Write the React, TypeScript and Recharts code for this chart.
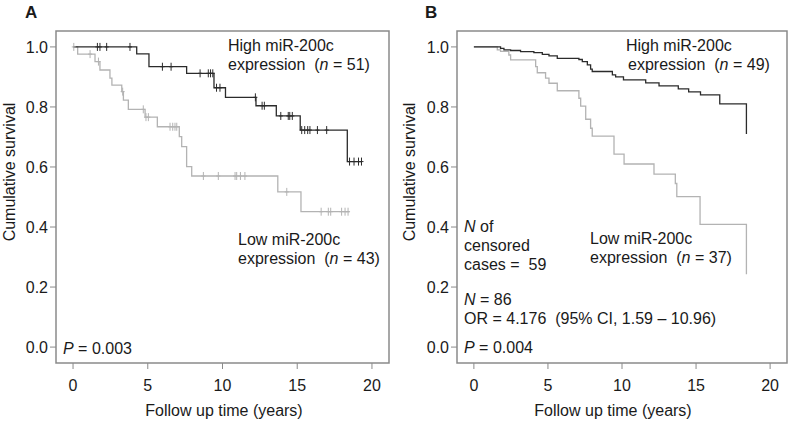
import React from 'react';
import { ComposedChart, Line, Scatter, XAxis, YAxis, ReferenceArea } from 'recharts';

// ---------- Panel A data ----------
const hiA_t = [0, 4.26, 5.08, 7.6, 9.43, 10.2, 12.24, 13.6, 15.2, 18.35, 19.3];
const hiA_s = [1.0, 0.977, 0.934, 0.912, 0.864, 0.832, 0.804, 0.77, 0.723, 0.618, 0.618];
const hiA_cens = [1.63, 1.8, 2.25, 3.81, 5.98, 6.56, 8.5, 9.05, 9.2, 9.35, 9.6, 9.83, 12.2, 12.65, 12.8, 13.9, 14.4, 14.5, 14.67, 15.3, 15.5, 15.7, 15.85, 16.35, 16.97, 18.5, 18.8, 19.1, 19.3];

const loA_t = [0, 0.31, 1.47, 1.8, 2.47, 2.6, 3.26, 3.37, 3.7, 4.82, 5.64, 7.11, 7.27, 7.6, 7.94, 13.7, 15.25, 18.5];
const loA_s = [1.0, 0.976, 0.951, 0.923, 0.896, 0.873, 0.851, 0.823, 0.792, 0.766, 0.734, 0.701, 0.668, 0.601, 0.57, 0.517, 0.451, 0.451];
const loA_cens = [0.05, 1.14, 1.7, 3.32, 4.7, 4.88, 5.04, 6.49, 6.67, 6.82, 6.94, 8.72, 9.72, 10.84, 10.95, 11.2, 11.5, 14.3, 16.6, 17.08, 17.24, 17.97, 18.2, 18.4];

// ---------- Panel B data ----------
const hiB_t = [0, 1.8, 2.03, 2.48, 3.15, 4.05, 4.62, 5.07, 5.63, 7.09, 7.32, 7.66, 7.88, 7.99, 9.35, 9.57, 10.1, 11.6, 12.5, 13.8, 14.5, 15.3, 16.6, 18.4];
const hiB_s = [1.0, 0.995, 0.99, 0.988, 0.984, 0.981, 0.975, 0.97, 0.962, 0.958, 0.951, 0.94, 0.926, 0.918, 0.907, 0.9, 0.89, 0.88, 0.87, 0.86, 0.85, 0.84, 0.81, 0.71];

const loB_t = [0, 1.58, 1.8, 2.36, 2.48, 4.17, 4.28, 4.84, 5.07, 5.63, 7.09, 7.21, 7.55, 7.88, 7.99, 9.46, 10.14, 12.16, 13.6, 13.7, 15.27, 18.4];
const loB_s = [1.0, 0.99, 0.985, 0.973, 0.957, 0.934, 0.914, 0.896, 0.879, 0.854, 0.829, 0.803, 0.759, 0.729, 0.703, 0.643, 0.61, 0.576, 0.545, 0.501, 0.409, 0.243];

const xTicks = [0, 5, 10, 15, 20];
const yTicks = [0, 0.2, 0.4, 0.6, 0.8, 1.0];
const X_DOMAIN: [number, number] = [-1.14, 21.14];
const Y_DOMAIN: [number, number] = [-0.053, 1.053];

const FONT = '"Liberation Sans", Arial, Helvetica, sans-serif';
const DARK = '#2b2b2b';
const LIGHT = '#b3b3b3';
const FRAME = '#8a8a8a';

function toPoints(ts: number[], ss: number[]) {
  return ts.map((t, i) => ({ t, s: ss[i] }));
}
function levelAt(ts: number[], ss: number[], t: number) {
  let v = ss[0];
  for (let i = 0; i < ts.length; i++) if (ts[i] <= t) v = ss[i];
  return v;
}
function censPoints(ts: number[], ss: number[], cens: number[]) {
  return cens.map((t) => ({ t, s: levelAt(ts, ss, t) }));
}

const makeCensor = (color: string) => (props: any) => {
  const { cx, cy } = props;
  if (cx == null || cy == null) return <g />;
  return (
    <g>
      <line x1={cx} x2={cx} y1={cy - 4} y2={cy + 4} stroke={color} strokeWidth={1} />
      <line x1={cx - 2} x2={cx + 2} y1={cy} y2={cy} stroke={color} strokeWidth={1} />
    </g>
  );
};

const tickStyle = { fontSize: 16, fill: '#1a1a1a', fontFamily: FONT };

function Panel(props: {
  width: number;
  left: number;
  right: number;
  hi: { t: number; s: number }[];
  lo: { t: number; s: number }[];
  hiC?: { t: number; s: number }[];
  loC?: { t: number; s: number }[];
}) {
  const { width, left, right, hi, lo, hiC, loC } = props;
  return (
    <ComposedChart
      width={width}
      height={424}
      margin={{ top: 31, right, bottom: 11, left: 0 }}
    >
      <XAxis
        type="number"
        dataKey="t"
        domain={X_DOMAIN}
        ticks={xTicks}
        allowDataOverflow
        axisLine={false}
        stroke={FRAME}
        tickSize={6}
        tickMargin={11}
        height={50}
        tick={tickStyle}
        interval={0}
      />
      <YAxis
        type="number"
        dataKey="s"
        domain={Y_DOMAIN}
        ticks={yTicks}
        allowDataOverflow
        axisLine={false}
        stroke={FRAME}
        tickSize={6}
        tickMargin={2}
        width={left}
        tick={tickStyle}
        interval={0}
        tickFormatter={(v: number) => v.toFixed(1)}
      />
      <ReferenceArea
        x1={X_DOMAIN[0]}
        x2={X_DOMAIN[1]}
        y1={Y_DOMAIN[0]}
        y2={Y_DOMAIN[1]}
        fill="none"
        fillOpacity={0}
        stroke={FRAME}
        strokeWidth={1.5}
        ifOverflow="visible"
      />
      <Line data={lo} dataKey="s" type="stepAfter" stroke={LIGHT} strokeWidth={1.3} dot={false} isAnimationActive={false} />
      <Line data={hi} dataKey="s" type="stepAfter" stroke={DARK} strokeWidth={1.3} dot={false} isAnimationActive={false} />
      {loC && <Scatter data={loC} dataKey="s" shape={makeCensor(LIGHT)} isAnimationActive={false} />}
      {hiC && <Scatter data={hiC} dataKey="s" shape={makeCensor(DARK)} isAnimationActive={false} />}
    </ComposedChart>
  );
}

const txt = { fontFamily: FONT, fontSize: 16, fill: '#1a1a1a', whiteSpace: 'pre' as const };

export default function App() {
  return (
    <div style={{ position: 'absolute', left: 0, top: 0, width: 794, height: 424, background: '#fff' }}>
      <div style={{ position: 'absolute', left: 0, top: 0 }}>
        <Panel
          width={400}
          left={56}
          right={11}
          hi={toPoints(hiA_t, hiA_s)}
          lo={toPoints(loA_t, loA_s)}
          hiC={censPoints(hiA_t, hiA_s, hiA_cens)}
          loC={censPoints(loA_t, loA_s, loA_cens)}
        />
      </div>
      <div style={{ position: 'absolute', left: 400, top: 0 }}>
        <Panel width={394} left={57} right={7} hi={toPoints(hiB_t, hiB_s)} lo={toPoints(loB_t, loB_s)} />
      </div>
      <svg width={794} height={424} style={{ position: 'absolute', left: 0, top: 0, pointerEvents: 'none' }}>
        {/* Panel A */}
        <text x={25} y={18} style={{ ...txt, fontWeight: 'bold', fontSize: 17 }}>A</text>
        <text transform="translate(15,172) rotate(-90)" textAnchor="middle" style={txt}>Cumulative survival</text>
        <text x={224} y={416} textAnchor="middle" style={txt}>Follow up time (years)</text>
        <text x={228} y={51} style={txt}>High miR-200c</text>
        <text x={228} y={70} style={txt}>expression  (<tspan fontStyle="italic">n</tspan> = 51)</text>
        <text x={238} y={244.5} style={txt}>Low miR-200c</text>
        <text x={238} y={263.5} style={txt}>expression  (<tspan fontStyle="italic">n</tspan> = 43)</text>
        <text x={63} y={353.5} style={txt}><tspan fontStyle="italic">P</tspan> = 0.003</text>

        {/* Panel B */}
        <text x={425} y={18} style={{ ...txt, fontWeight: 'bold', fontSize: 17 }}>B</text>
        <text transform="translate(415,172) rotate(-90)" textAnchor="middle" style={txt}>Cumulative survival</text>
        <text x={613} y={416} textAnchor="middle" style={txt}>Follow up time (years)</text>
        <text x={626} y={51} style={txt}>High miR-200c</text>
        <text x={628} y={70} style={txt}>expression  (<tspan fontStyle="italic">n</tspan> = 49)</text>
        <text x={590} y={243.5} style={txt}>Low miR-200c</text>
        <text x={590} y={263} style={txt}>expression  (<tspan fontStyle="italic">n</tspan> = 37)</text>
        <text x={464} y={232} style={txt}><tspan fontStyle="italic">N</tspan> of</text>
        <text x={464} y={251} style={txt}>censored</text>
        <text x={464} y={270} style={txt}>cases =  59</text>
        <text x={464} y={305} style={txt}><tspan fontStyle="italic">N</tspan> = 86</text>
        <text x={464} y={324} style={txt}>OR = 4.176  (95% CI, 1.59 – 10.96)</text>
        <text x={464} y={353} style={txt}><tspan fontStyle="italic">P</tspan> = 0.004</text>
      </svg>
    </div>
  );
}
